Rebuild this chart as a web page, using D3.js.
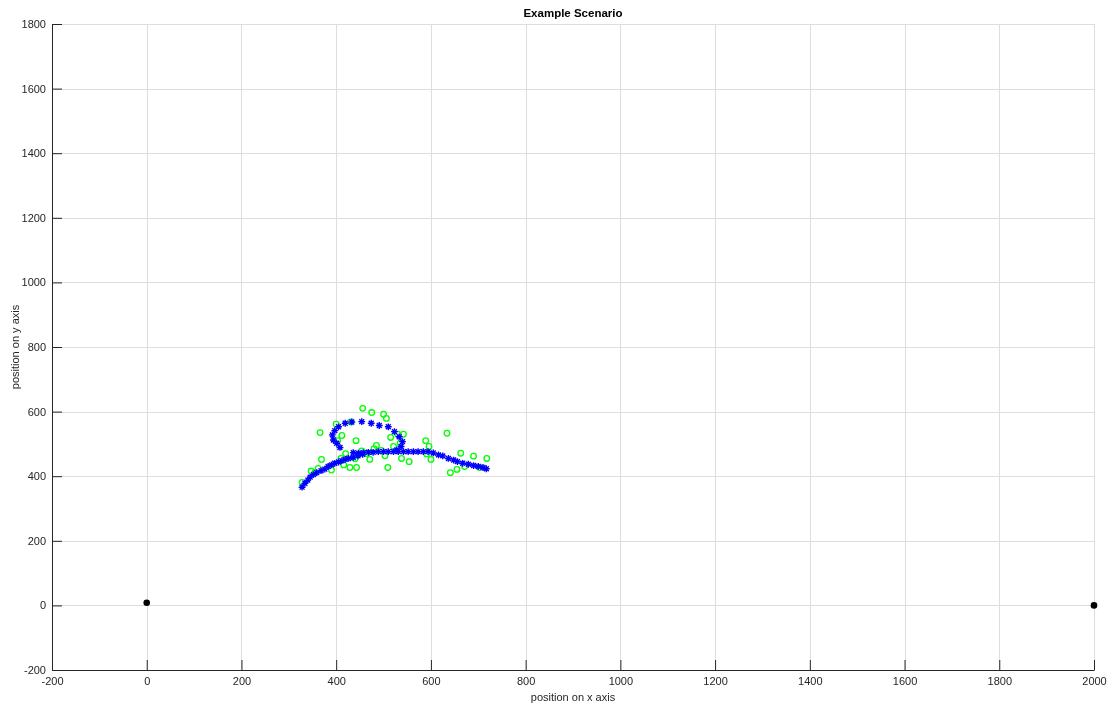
<!DOCTYPE html>
<html>
<head>
<meta charset="utf-8">
<script src="https://cdn.jsdelivr.net/npm/d3@7"></script>
<style>
  html, body { margin: 0; padding: 0; background: #fff; }
  svg { display: block; font-family: "Liberation Sans", Arial, Helvetica, sans-serif; will-change: transform; }
</style>
</head>
<body>
<svg id="chart" width="1111" height="706"></svg>
<script>
// Axis tick values
const xTicks = [-200, 0, 200, 400, 600, 800, 1000, 1200, 1400, 1600, 1800, 2000];
const yTicks = [-200, 0, 200, 400, 600, 800, 1000, 1200, 1400, 1600, 1800];

// Estimated track (blue asterisks)
const trackX = [328, 334, 340, 345, 352, 359, 368, 376, 383, 390, 397, 405, 412, 419, 426, 436, 446, 456,
                408, 401, 394, 392, 397, 405, 419, 433, 454, 474, 491, 510, 523, 533, 540, 537, 528,
                436, 447, 457, 468, 478, 489, 500, 510, 521, 531, 542, 552, 563, 573, 584, 594,
                605, 616, 625, 637, 648, 656, 667, 679, 690, 700, 710, 717];
const trackY = [366, 378, 388, 397, 405, 411, 417, 422, 430, 435, 440, 444, 448, 452, 455, 458, 463, 468,
                489, 502, 512, 528, 541, 553, 564, 568, 569, 564, 557, 553, 538, 522, 507, 492, 481,
                473, 471, 473, 474, 474, 476, 476, 476, 476, 476, 476, 476, 476, 476, 476, 476,
                472, 466, 463, 455, 450, 445, 440, 437, 433, 430, 427, 423];

// Noisy measurements (green circles)
const measX = [328, 347, 355, 362, 369, 366, 390, 400, 403, 412, 416, 429, 443, 440, 431, 442, 454, 456,
               471, 475, 485, 500, 506, 503, 509, 521, 515, 530, 538, 535, 542, 554, 589, 596, 591, 600,
               634, 641, 655, 663, 671, 690, 703, 718, 465, 480, 495, 420, 410];
const measY = [381, 416, 411, 424, 452, 535, 419, 561, 510, 526, 435, 427, 427, 454, 568, 510, 478, 610,
               452, 597, 495, 592, 579, 463, 427, 492, 520, 530, 455, 502, 530, 445, 510, 492, 469, 452,
               533, 411, 421, 471, 430, 462, 427, 455, 470, 485, 480, 470, 455];

// Fixed reference points (black dots)
const anchorX = [0, 2000];
const anchorY = [8, 0];

const svg = d3.select("#chart");
const plotLeft = 52, plotRight = 1094, plotTop = 24, plotBottom = 670;

const x = d3.scaleLinear().domain([-200, 2000]).range([plotLeft, plotRight]);
const y = d3.scaleLinear().domain([-200, 1800]).range([plotBottom, plotTop]);

const axisColor = "#262626";
const fmt = d => String(d);

// grid
const grid = svg.append("g").attr("stroke", "#dedede").attr("stroke-width", 1);
grid.selectAll("line.gx").data(xTicks.slice(1)).join("line")
  .attr("x1", d => Math.round(x(d)) + 0.5).attr("x2", d => Math.round(x(d)) + 0.5)
  .attr("y1", plotTop).attr("y2", plotBottom);
grid.selectAll("line.gy").data(yTicks.slice(1)).join("line")
  .attr("y1", d => Math.round(y(d)) + 0.5).attr("y2", d => Math.round(y(d)) + 0.5)
  .attr("x1", plotLeft).attr("x2", plotRight);

// axes with inward ticks
const xAxis = svg.append("g").attr("transform", `translate(0,${plotBottom})`)
  .call(d3.axisBottom(x).tickValues(xTicks).tickFormat(fmt).tickSizeInner(-10).tickSizeOuter(0).tickPadding(5));
const yAxis = svg.append("g").attr("transform", `translate(${plotLeft},0)`)
  .call(d3.axisLeft(y).tickValues(yTicks).tickFormat(fmt).tickSizeInner(-10).tickSizeOuter(0).tickPadding(6));

[xAxis, yAxis].forEach(g => {
  g.select(".domain").attr("stroke", axisColor).attr("stroke-width", 1);
  g.selectAll(".tick line").attr("stroke", axisColor).attr("stroke-width", 1);
  g.selectAll(".tick text").attr("fill", axisColor).attr("font-size", 11)
    .attr("font-family", "'Liberation Sans', Arial, sans-serif");
});
xAxis.selectAll(".tick text").attr("dy", "0.9em");

// measurements
svg.append("g").selectAll("circle").data(d3.range(measX.length)).join("circle")
  .attr("cx", i => x(measX[i])).attr("cy", i => y(measY[i]))
  .attr("r", 2.8).attr("fill", "none").attr("stroke", "#00ff00").attr("stroke-width", 1.3);

// track asterisks
const s = 3.4;
const star = `M${-s},0L${s},0M0,${-s}L0,${s}M${-s*0.72},${-s*0.72}L${s*0.72},${s*0.72}M${-s*0.72},${s*0.72}L${s*0.72},${-s*0.72}`;
svg.append("g").selectAll("path").data(d3.range(trackX.length)).join("path")
  .attr("transform", i => `translate(${x(trackX[i])},${y(trackY[i])})`)
  .attr("d", star).attr("fill", "none").attr("stroke", "#0000ff").attr("stroke-width", 1.4);

// anchors
svg.append("g").selectAll("circle").data(d3.range(anchorX.length)).join("circle")
  .attr("cx", i => x(anchorX[i])).attr("cy", i => y(anchorY[i]))
  .attr("r", 3.3).attr("fill", "#000");

// title and labels
svg.append("text").attr("x", (plotLeft + plotRight) / 2).attr("y", 17).attr("text-anchor", "middle")
  .attr("font-size", 11.5).attr("font-weight", "bold").attr("fill", "#000").text("Example Scenario");
svg.append("text").attr("x", (plotLeft + plotRight) / 2).attr("y", 701).attr("text-anchor", "middle")
  .attr("font-size", 11).attr("fill", axisColor).text("position on x axis");
svg.append("text").attr("transform", `translate(19,${(plotTop + plotBottom) / 2}) rotate(-90)`)
  .attr("text-anchor", "middle").attr("font-size", 11).attr("fill", axisColor).text("position on y axis");
</script>
</body>
</html>
